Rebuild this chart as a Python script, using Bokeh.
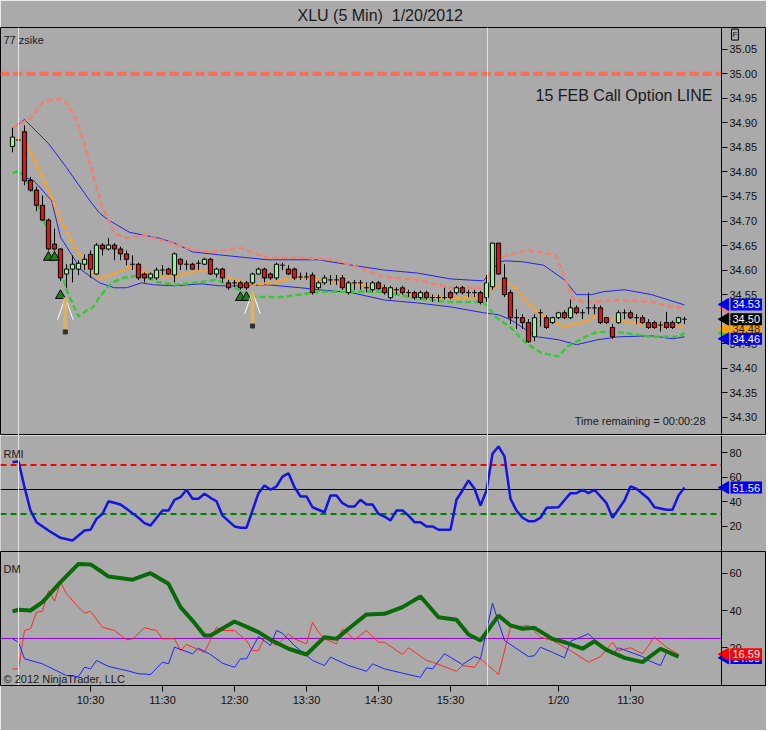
from bokeh.plotting import figure
from bokeh.models import Range1d, Span, Label, FixedTicker, PrintfTickFormatter, Title
from bokeh.layouts import column
from bokeh.embed import file_html
from bokeh.resources import INLINE

# ---------------- data ----------------
opens = [34.852, 34.865, 34.882, 34.783, 34.763, 34.732, 34.702, 34.653, 34.643, 34.592,
         34.602, 34.602, 34.612, 34.632, 34.592, 34.651, 34.643, 34.651, 34.643, 34.633,
         34.612, 34.612, 34.592, 34.584, 34.584, 34.600, 34.602, 34.590, 34.622, 34.612,
         34.612, 34.614, 34.612, 34.622, 34.592, 34.602, 34.574, 34.574, 34.574, 34.574,
         34.574, 34.592, 34.602, 34.592, 34.584, 34.610, 34.602, 34.602, 34.586, 34.586,
         34.590, 34.564, 34.574, 34.580, 34.580, 34.584, 34.554, 34.574, 34.574, 34.564,
         34.560, 34.574, 34.564, 34.544, 34.560, 34.564, 34.554, 34.554, 34.544, 34.554,
         34.544, 34.544, 34.544, 34.554, 34.554, 34.564, 34.554, 34.554, 34.554, 34.544,
         34.566, 34.655, 34.584, 34.554, 34.503, 34.503, 34.493, 34.464, 34.513, 34.503,
         34.493, 34.503, 34.513, 34.503, 34.523, 34.513, 34.523, 34.523, 34.523, 34.503,
         34.483, 34.493, 34.513, 34.513, 34.503, 34.503, 34.493, 34.493, 34.488, 34.493,
         34.493, 34.493, 34.500]
highs = [34.890, 34.875, 34.895, 34.790, 34.770, 34.752, 34.705, 34.685, 34.645, 34.612,
         34.630, 34.620, 34.632, 34.640, 34.655, 34.655, 34.665, 34.655, 34.648, 34.640,
         34.630, 34.615, 34.595, 34.595, 34.605, 34.610, 34.605, 34.636, 34.625, 34.620,
         34.615, 34.620, 34.625, 34.625, 34.605, 34.605, 34.580, 34.580, 34.578, 34.578,
         34.595, 34.605, 34.605, 34.595, 34.615, 34.615, 34.610, 34.605, 34.595, 34.595,
         34.595, 34.578, 34.590, 34.590, 34.590, 34.590, 34.578, 34.580, 34.580, 34.575,
         34.578, 34.578, 34.570, 34.568, 34.565, 34.568, 34.560, 34.558, 34.558, 34.558,
         34.550, 34.550, 34.564, 34.558, 34.568, 34.568, 34.560, 34.560, 34.558, 34.590,
         34.655, 34.655, 34.612, 34.560, 34.520, 34.510, 34.500, 34.510, 34.520, 34.508,
         34.505, 34.515, 34.518, 34.540, 34.528, 34.520, 34.554, 34.530, 34.528, 34.505,
         34.490, 34.518, 34.520, 34.518, 34.510, 34.508, 34.500, 34.497, 34.495, 34.515,
         34.497, 34.505, 34.505]
lows = [34.840, 34.850, 34.773, 34.760, 34.720, 34.700, 34.640, 34.640, 34.578, 34.564,
        34.575, 34.590, 34.600, 34.584, 34.590, 34.630, 34.640, 34.620, 34.620, 34.610,
        34.600, 34.580, 34.575, 34.580, 34.580, 34.590, 34.590, 34.575, 34.600, 34.600,
        34.600, 34.600, 34.610, 34.590, 34.585, 34.575, 34.560, 34.565, 34.560, 34.560,
        34.570, 34.590, 34.575, 34.580, 34.580, 34.600, 34.590, 34.580, 34.580, 34.580,
        34.550, 34.560, 34.570, 34.570, 34.570, 34.560, 34.550, 34.560, 34.560, 34.555,
        34.555, 34.560, 34.550, 34.540, 34.550, 34.550, 34.545, 34.540, 34.540, 34.540,
        34.535, 34.535, 34.540, 34.540, 34.550, 34.550, 34.545, 34.545, 34.530, 34.535,
        34.560, 34.590, 34.545, 34.490, 34.480, 34.480, 34.452, 34.455, 34.485, 34.480,
        34.490, 34.500, 34.500, 34.500, 34.510, 34.500, 34.510, 34.510, 34.490, 34.490,
        34.460, 34.490, 34.500, 34.500, 34.490, 34.490, 34.480, 34.480, 34.475, 34.480,
        34.480, 34.490, 34.490]
closes = [34.871, 34.865, 34.782, 34.763, 34.732, 34.702, 34.643, 34.643, 34.584, 34.602,
          34.612, 34.614, 34.622, 34.602, 34.651, 34.643, 34.651, 34.643, 34.633, 34.622,
          34.612, 34.584, 34.584, 34.592, 34.600, 34.600, 34.592, 34.633, 34.612, 34.612,
          34.602, 34.614, 34.622, 34.592, 34.602, 34.584, 34.564, 34.574, 34.564, 34.564,
          34.592, 34.602, 34.584, 34.584, 34.612, 34.610, 34.592, 34.584, 34.586, 34.586,
          34.554, 34.574, 34.584, 34.580, 34.580, 34.564, 34.574, 34.574, 34.574, 34.564,
          34.574, 34.562, 34.554, 34.564, 34.560, 34.554, 34.554, 34.544, 34.554, 34.544,
          34.544, 34.544, 34.544, 34.544, 34.564, 34.554, 34.554, 34.554, 34.534, 34.574,
          34.655, 34.592, 34.550, 34.503, 34.503, 34.493, 34.454, 34.503, 34.513, 34.483,
          34.503, 34.513, 34.503, 34.523, 34.513, 34.513, 34.523, 34.523, 34.493, 34.493,
          34.464, 34.513, 34.513, 34.503, 34.503, 34.493, 34.483, 34.483, 34.488, 34.483,
          34.483, 34.503, 34.500]

# price-panel indicator lines (bar index, price)
ub_x = [0, 2, 6, 9, 12.5, 14.5, 16, 19.5, 24.5, 27, 30, 34.5, 42.5, 51, 56.5, 62, 67.5, 73, 78.5,
        79, 81, 82, 85, 88.5, 92, 94, 96.5, 98.5, 102, 106.5, 112]
ub_v = [34.888, 34.907, 34.858, 34.809, 34.748, 34.716, 34.702, 34.677, 34.665, 34.655, 34.637,
        34.631, 34.621, 34.621, 34.610, 34.600, 34.594, 34.582, 34.578, 34.586, 34.615, 34.619,
        34.617, 34.610, 34.580, 34.550, 34.550, 34.556, 34.560, 34.550, 34.529]
lb_x = [2, 3.5, 6.5, 8, 11.5, 14.5, 17, 19, 21.5, 23.5, 27, 31.5, 34.5, 38, 42.5, 48, 51, 56.5, 62,
        67.5, 73, 78.5, 81, 83, 85.5, 87.5, 91, 94, 97.5, 101, 106.5, 110, 112]
lb_v = [34.789, 34.783, 34.742, 34.667, 34.600, 34.574, 34.564, 34.564, 34.574, 34.570, 34.568,
        34.572, 34.568, 34.568, 34.570, 34.564, 34.560, 34.554, 34.539, 34.533, 34.525, 34.513,
        34.509, 34.499, 34.479, 34.464, 34.458, 34.448, 34.458, 34.464, 34.466, 34.460, 34.464]
su_x = [0, 3, 5, 6.5, 8, 9, 10.5, 12, 13.5, 15, 17, 19, 22, 26, 30, 33.5, 38, 42.5, 48, 53.5, 58,
        62, 67.5, 73, 78.5, 80, 81, 86, 90.5, 92, 93.5, 96.5, 101, 106.5, 110, 112]
su_v = [34.890, 34.909, 34.941, 34.947, 34.949, 34.941, 34.911, 34.858, 34.789, 34.728, 34.675,
        34.665, 34.671, 34.657, 34.641, 34.637, 34.645, 34.625, 34.625, 34.621, 34.604, 34.586,
        34.580, 34.564, 34.564, 34.606, 34.625, 34.641, 34.631, 34.586, 34.539, 34.535, 34.539,
        34.535, 34.525, 34.523]
gl_x = [0, 1, 2, 3.5, 5, 6.5, 7.5, 9, 11, 12.5, 13.5, 14.5, 16.5, 18.5, 21.5, 24, 27, 31.5, 34,
        37, 40, 45, 51, 56.5, 62, 67, 72.5, 78, 79, 80.5, 83, 85.5, 88, 91, 92.5, 95.5, 97.5,
        100, 102, 106.5, 111, 112]
gl_v = [34.797, 34.803, 34.789, 34.757, 34.708, 34.655, 34.625, 34.560, 34.505, 34.519, 34.525,
        34.545, 34.574, 34.584, 34.590, 34.576, 34.570, 34.576, 34.580, 34.564, 34.545, 34.545,
        34.556, 34.556, 34.556, 34.543, 34.535, 34.535, 34.529, 34.505, 34.483, 34.452, 34.432,
        34.424, 34.444, 34.464, 34.474, 34.474, 34.472, 34.464, 34.464, 34.472]
om_x = [0, 2, 4, 6.5, 8, 10, 12.5, 14.5, 17.5, 19.5, 22, 24.5, 28, 31.5, 33.5, 37, 40, 43.5, 47,
        49.5, 53.5, 58, 62, 67, 72.5, 78, 79.5, 81, 82, 83.5, 85.5, 88, 92, 95.5, 97.5, 100, 102,
        106.5, 111, 112]
om_v = [34.870, 34.864, 34.817, 34.748, 34.702, 34.655, 34.606, 34.582, 34.596, 34.606, 34.596,
        34.586, 34.590, 34.600, 34.596, 34.580, 34.570, 34.574, 34.586, 34.584, 34.576, 34.570,
        34.564, 34.550, 34.543, 34.545, 34.556, 34.570, 34.580, 34.566, 34.539, 34.509, 34.485,
        34.495, 34.509, 34.499, 34.495, 34.489, 34.485, 34.484]

call_line = 35.00
tri_x = [6, 7, 8, 38, 39]
tri_y = [34.626, 34.626, 34.548, 34.544, 34.544]
arrow_x = [8.8, 40.0]
arrow_tip = [34.544, 34.556]
arrow_end = [34.474, 34.486]

# RMI panel
rmi_i = [0, 1, 2, 3, 4, 6, 8, 10, 12, 13, 14, 15, 16, 18, 19, 21, 22, 23, 25, 26, 27, 28, 29, 30,
         31, 32, 33, 34, 35, 37, 38, 39, 41, 42, 43, 44, 45, 46, 47, 48, 49, 50, 52, 53, 54, 55, 56,
         57, 58, 59, 60, 61, 62, 63, 64, 65, 66, 67, 68, 69, 70, 71, 73, 74, 75, 76, 77, 78, 79, 80,
         81, 82, 83, 84, 85, 86, 87, 88, 89, 91, 93, 94, 95, 96, 97, 99, 100, 102, 103, 104, 106,
         107, 109, 110, 111, 112]
rmi_v = [72.3, 73.1, 51.9, 32.8, 23.3, 16.5, 10.5, 8.3, 16.5, 17.1, 26.0, 30.1, 40.4, 37.7, 34.2,
         26.9, 22.5, 20.6, 32.8, 32.8, 41.6, 43.7, 49.8, 42.4, 42.4, 46.5, 43.2, 40.4, 28.7, 19.8,
         18.7, 18.7, 47.0, 53.3, 49.8, 52.5, 60.6, 63.3, 51.9, 44.3, 44.3, 35.5, 31.4, 45.1, 45.1,
         38.8, 36.1, 36.1, 41.6, 37.7, 37.7, 30.1, 27.9, 24.7, 32.8, 32.8, 28.7, 23.3, 23.3, 19.8,
         19.8, 17.1, 17.1, 41.6, 49.2, 57.4, 50.6, 36.9, 49.2, 79.2, 85.2, 77.0, 42.4, 32.8, 26.9,
         24.1, 24.1, 26.9, 35.0, 35.5, 47.0, 47.0, 49.8, 47.0, 49.8, 38.8, 26.9, 41.0, 52.5, 50.6,
         42.4, 35.5, 33.4, 33.4, 45.1, 51.56]
rmi_upper, rmi_mid, rmi_lower = 70, 50, 30

# DM panel
adx_i = [0, 1, 3, 5, 8, 11, 13, 15, 16, 20, 23, 26, 28, 30, 32, 33, 37, 41, 43, 46, 49, 52, 54, 56,
         59, 62, 65, 68, 71, 74, 76, 78, 81, 83, 85, 87, 90, 92, 95, 97, 99, 102, 105, 108, 111]
adx_v = [39.5, 40.4, 40.0, 44.5, 55.2, 65.0, 64.7, 60.5, 58.2, 56.5, 60.0, 54.3, 41.8, 34.6, 26.6,
         26.6, 34.1, 28.4, 24.3, 19.5, 16.4, 25.7, 24.8, 30.2, 37.9, 38.2, 41.8, 47.5, 36.4, 35.0,
         27.1, 23.9, 37.3, 32.0, 30.2, 30.7, 24.8, 23.0, 19.5, 23.5, 18.9, 14.6, 12.3, 19.5, 15.3]
pdi_i = [0, 1, 2, 3, 4, 5, 6, 7, 8, 9, 11, 12, 13, 15, 17, 19, 20, 22, 24, 25, 27, 28, 29, 32, 34,
         35, 37, 39, 40, 41, 42, 44, 46, 47, 49, 50, 51, 52, 54, 55, 57, 59, 61, 62, 65, 66, 69, 70,
         74, 75, 77, 78, 81, 83, 86, 88, 90, 93, 96, 98, 100, 101, 103, 105, 107, 109, 111]
pdi_v = [8.7, 8.7, 29.3, 30.2, 39.1, 39.6, 50.7, 45.0, 55.2, 49.0, 41.8, 38.6, 39.6, 31.0, 29.3,
         24.3, 24.8, 30.7, 29.3, 24.8, 24.8, 18.5, 21.8, 17.6, 31.0, 29.3, 29.3, 23.9, 18.5, 18.5,
         25.4, 21.2, 27.5, 24.8, 22.1, 33.7, 28.4, 24.8, 22.1, 30.2, 24.3, 29.3, 23.0, 23.0, 16.4,
         20.0, 13.2, 12.3, 7.4, 10.5, 9.6, 14.1, 5.7, 31.0, 32.0, 25.7, 23.9, 18.5, 12.3, 15.3,
         23.0, 18.5, 20.0, 16.8, 25.7, 20.3, 16.59]
mdi_i = [0, 1, 2, 5, 9, 11, 12, 13, 14, 16, 19, 21, 23, 25, 26, 27, 30, 31, 33, 35, 37, 38, 39, 41,
         43, 44, 45, 47, 50, 52, 53, 56, 59, 60, 62, 65, 68, 69, 70, 72, 75, 77, 78, 80, 81, 82, 86,
         87, 88, 90, 92, 93, 96, 97, 100, 101, 105, 106, 108, 109]
mdi_v = [24.8, 23.0, 14.1, 11.4, 5.1, 4.6, 9.6, 8.7, 13.2, 10.0, 7.8, 6.1, 5.7, 12.3, 11.4, 20.3,
         16.8, 19.8, 16.4, 11.7, 9.6, 14.1, 14.1, 26.1, 21.2, 29.3, 27.8, 21.2, 13.2, 10.5, 15.0,
         10.5, 7.4, 11.4, 8.7, 6.4, 4.2, 9.3, 8.7, 16.8, 11.0, 15.3, 14.1, 43.9, 33.7, 23.9, 15.3,
         15.8, 20.3, 17.6, 14.6, 23.5, 27.5, 24.3, 16.4, 20.0, 15.3, 13.2, 10.5, 17.6]
dm_level = 25
dm_minus_tag = 14.6

# axes
time_ticks = [13, 25, 37, 49, 61, 73, 91, 103]
time_labels = ["10:30", "11:30", "12:30", "13:30", "14:30", "15:30", "1/20", "11:30"]
price_ticks = [34.30, 34.35, 34.40, 34.45, 34.50, 34.55, 34.60, 34.65, 34.70, 34.75, 34.80,
               34.85, 34.90, 34.95, 35.00, 35.05]
rmi_ticks = [20, 40, 60, 80]
dm_ticks = [20, 40, 60]
session_breaks = [1.0, 79.17]

# ---------------- styling ----------------
BG = "#AAAAAA"
FONT = "Liberation Sans"
RED = "#E81010"
GREEN = "#98F098"
W = 766
X0 = -2.0                 # left edge of the frame (bar-index units)
X1 = X0 + W / 6.0         # right edge of the frame
AX = 118.1667             # where the value axis sits
xr = Range1d(X0, X1)


def style_axis(ax):
    ax.axis_line_color = "black"
    ax.major_tick_line_color = "black"
    ax.major_tick_out = 6
    ax.major_tick_in = 0
    ax.minor_tick_line_color = None
    ax.major_label_text_font = FONT
    ax.major_label_text_font_size = "11px"
    ax.major_label_text_color = "#111111"
    ax.major_label_standoff = 2


def make_fig(height, yr, top, bottom, xaxis=False, title=None):
    p = figure(width=W, height=height, x_range=xr, y_range=yr,
               output_backend="svg", toolbar_location=None,
               y_axis_location="right", x_axis_location="below" if xaxis else None,
               min_border_left=0, min_border_right=0, min_border_top=top,
               min_border_bottom=bottom, background_fill_color=BG, border_fill_color=BG,
               title=title)
    p.xgrid.visible = False
    p.ygrid.visible = False
    p.outline_line_color = "black"
    yax = p.yaxis[0]
    style_axis(yax)
    yax.fixed_location = AX
    for b in session_breaks:
        p.add_layout(Span(location=b, dimension="height", line_color="#E4E4E4", line_width=1))
    return p


def hline(p, y, color, width, dash="solid"):
    p.segment(x0=[X0], x1=[AX], y0=[y], y1=[y], line_color=color, line_width=width,
              line_dash=dash)


def txt(p, x, y, text, size="11px", align="left", color="#1a1a1a"):
    p.add_layout(Label(x=x, y=y, text=text, text_font=FONT, text_font_size=size,
                       text_color=color, text_align=align, text_baseline="middle"))


def tip(p, y, color):
    p.scatter([AX + 0.62], [y], marker="triangle", angle=1.5708, size=12,
              fill_color=color, line_color=color)


def tag(p, y, text, bg, fg="white"):
    tip(p, y, bg)
    p.add_layout(Label(x=AX, y=y, x_offset=9, text=text, text_font=FONT, text_font_size="11px",
                       text_color=fg, text_align="left", text_baseline="middle",
                       background_fill_color=bg, padding=2))


# ---------------- price panel ----------------
title = Title(text="XLU (5 Min)\u00a0 1/20/2012", align="left", offset=297,
              text_font=FONT, text_font_size="16px", text_font_style="normal",
              text_color="#1a1a1a", standoff=8, text_line_height=1.0)
p1 = make_fig(435, Range1d(34.2629, 35.0944), 27, 0, title=title)
p1.yaxis.ticker = FixedTicker(ticks=price_ticks)
p1.yaxis.formatter = PrintfTickFormatter(format="%.2f")

hline(p1, call_line, "#F86E58", 4, "9 4")

p1.line(ub_x, ub_v, line_color="#2424E0", line_width=1)
p1.line(lb_x, lb_v, line_color="#2424E0", line_width=1)
p1.line(su_x, su_v, line_color="#F08070", line_width=2.5, line_dash="6 3")
p1.line(gl_x, gl_v, line_color="#38C838", line_width=2.5, line_dash="6 3")
p1.line(om_x, om_v, line_color="#FFA020", line_width=2.5, line_dash="6 2")

idx = list(range(len(opens)))
p1.segment(x0=idx, y0=lows, x1=idx, y1=highs, line_color="black", line_width=1)
up = [i for i in idx if closes[i] > opens[i]]
dn = [i for i in idx if closes[i] < opens[i]]
dj = [i for i in idx if closes[i] == opens[i]]
p1.vbar(x=up, width=0.7, bottom=[opens[i] for i in up], top=[closes[i] for i in up],
        fill_color=GREEN, line_color="black", line_width=1)
p1.vbar(x=dn, width=0.7, top=[opens[i] for i in dn], bottom=[closes[i] for i in dn],
        fill_color=RED, line_color="black", line_width=1)
p1.segment(x0=[i - 0.4 for i in dj], x1=[i + 0.4 for i in dj],
           y0=[closes[i] for i in dj], y1=[closes[i] for i in dj],
           line_color="black", line_width=1)

p1.scatter(tri_x, tri_y, marker="triangle", size=10, fill_color="#1E7E1E",
           line_color="black", line_width=1)
# up arrows under the signal bars
p1.segment(x0=[a - 1.3 for a in arrow_x], y0=[t - 0.045 for t in arrow_tip],
           x1=arrow_x, y1=arrow_tip, line_color="white", line_width=1)
p1.segment(x0=[a + 1.3 for a in arrow_x], y0=[t - 0.045 for t in arrow_tip],
           x1=arrow_x, y1=arrow_tip, line_color="white", line_width=1)
p1.segment(x0=arrow_x, y0=arrow_tip, x1=arrow_x, y1=arrow_end,
           line_color="#D8B268", line_width=4)
p1.scatter(arrow_x, arrow_end, marker="square", size=4, fill_color="#303030",
           line_color="#303030")

txt(p1, -1.5, 35.068, "77 zsike")
txt(p1, 116.67, 34.956, "15 FEB Call Option LINE", size="16px", align="right")
txt(p1, 115.5, 34.2934, "Time remaining = 00:00:28", size="11px", align="right")

p1.add_layout(Label(x=AX, y=35.080, x_offset=10, text="F", text_font=FONT, text_font_size="8px",
                    text_color="#111111", text_baseline="middle", border_line_color="black",
                    padding=1))
tip(p1, su_v[-1], "#F08070")
tip(p1, gl_v[-1], "#38C838")
tag(p1, round(om_v[-1], 2), f"{om_v[-1]:.2f}", "#FFA500", "#222222")
tag(p1, round(ub_v[-1], 2), f"{ub_v[-1]:.2f}", "#0000E8")
tag(p1, closes[-1], f"{closes[-1]:.2f}", "#000000")
tag(p1, round(lb_v[-1], 2), f"{lb_v[-1]:.2f}", "#0000E8")

# ---------------- RMI panel ----------------
p2 = make_fig(116, Range1d(-0.68, 94.14), 0, 0)
p2.outline_line_color = None
p2.yaxis.ticker = FixedTicker(ticks=rmi_ticks)
hline(p2, rmi_upper, "#FF0000", 2, "6 4")
hline(p2, rmi_lower, "#008000", 2, "6 4")
hline(p2, rmi_mid, "black", 1)
p2.line(rmi_i, rmi_v, line_color="#1414E0", line_width=2.5)
txt(p2, -1.5, 79.4, "RMI")
tag(p2, rmi_v[-1], f"{rmi_v[-1]:.2f}", "#0000E8")

# ---------------- DM panel ----------------
p3 = make_fig(179, Range1d(-0.21, 71.64), 0, 45, xaxis=True)
p3.yaxis.ticker = FixedTicker(ticks=dm_ticks)
style_axis(p3.xaxis[0])
p3.xaxis.major_label_standoff = 2
p3.xaxis.ticker = FixedTicker(ticks=time_ticks)
p3.xaxis.major_label_overrides = {t: l for t, l in zip(time_ticks, time_labels)}
hline(p3, dm_level, "#9400D3", 1)
p3.line(pdi_i, pdi_v, line_color="#FF2A2A", line_width=1)
p3.line(mdi_i, mdi_v, line_color="#2222FF", line_width=1)
p3.line(adx_i, adx_v, line_color="#0A6A0A", line_width=4)
txt(p3, -1.5, 62.5, "DM")
txt(p3, -1.5, 3.5, "\u00a9 2012 NinjaTrader, LLC")
tag(p3, dm_minus_tag, f"{dm_minus_tag:.2f}", "#0000E8")
tag(p3, pdi_v[-1], f"{pdi_v[-1]:.2f}", "#FF0000")

layout = column(p1, p2, p3, spacing=0)
open("out.html", "w").write(file_html(layout, INLINE))
